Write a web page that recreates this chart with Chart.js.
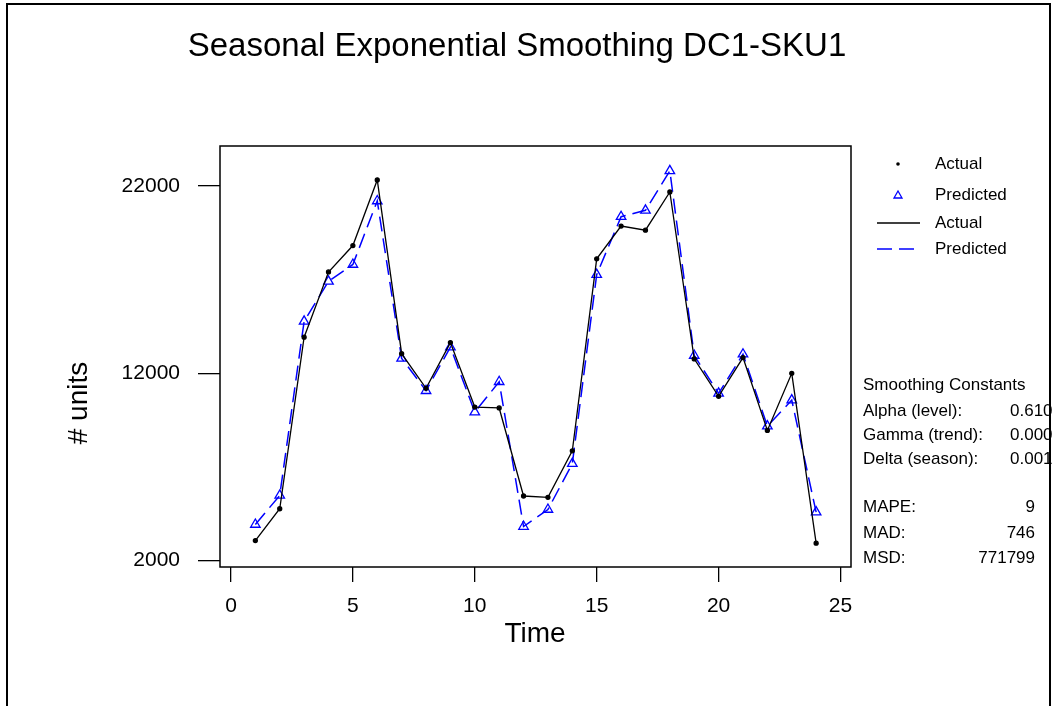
<!DOCTYPE html>
<html>
<head>
<meta charset="utf-8">
<title>Seasonal Exponential Smoothing DC1-SKU1</title>
<script src="https://cdn.jsdelivr.net/npm/chart.js@4/dist/chart.umd.min.js"></script>
<style>
    html, body { margin: 0; padding: 0; background: #fff; }
    canvas { display: block; }
</style>
</head>
<body>
<canvas id="forecastChart" width="1052" height="706"></canvas>
<script>
// Series values
const timePeriods = [1, 2, 3, 4, 5, 6, 7, 8, 9, 10, 11, 12, 13, 14, 15, 16, 17, 18, 19, 20, 21, 22, 23, 24];
const actualUnits = [3070, 4770, 13930, 17410, 18820, 22320, 13050, 11200, 13640, 10200, 10150, 5450,
                     5380, 7860, 18110, 19860, 19640, 21680, 12770, 10770, 12840, 8950, 12000, 2930];
const predictedUnits = [3930, 5480, 14770, 16910, 17810, 21200, 12800, 11070, 13400, 9930, 11550, 3820,
                        4730, 7180, 17270, 20360, 20700, 22810, 12950, 10930, 13020, 9180, 10570, 4590];

// Axis ticks
const xTicks = [0, 5, 10, 15, 20, 25];
const yTicks = [2000, 12000, 22000];

// Side panel text
const smoothingLabels = ['Alpha (level):', 'Gamma (trend):', 'Delta (season):'];
const smoothingValues = ['0.610', '0.000', '0.001'];
const accuracyLabels = ['MAPE:', 'MAD:', 'MSD:'];
const accuracyValues = ['9', '746', '771799'];

(function() {
    'use strict';

    const FONT = '"Liberation Sans", Arial, Helvetica, sans-serif';
    const BLUE = '#0000ff';

    // Fixed plot box, same spot as the reference
    const box = { left: 220, top: 146, right: 851, bottom: 567 };

    const toPoints = (values) => values.map((v, i) => ({ x: timePeriods[i], y: v }));

    const setText = (ctx, size, align) => {
        ctx.font = size + 'px ' + FONT;
        ctx.fillStyle = '#000';
        ctx.textAlign = align || 'left';
        ctx.textBaseline = 'middle';
    };

    // Frame, box, title, axis titles, legend and statistics
    const decorations = {
        id: 'decorations',
        afterDraw(chart) {
            const ctx = chart.ctx;
            const area = chart.chartArea;
            ctx.save();

            // page frame
            ctx.strokeStyle = '#000';
            ctx.lineWidth = 2;
            ctx.beginPath();
            ctx.moveTo(7, 720);
            ctx.lineTo(7, 4);
            ctx.lineTo(1050, 4);
            ctx.lineTo(1050, 720);
            ctx.stroke();

            // plot box
            ctx.lineWidth = 1.5;
            ctx.strokeRect(area.left, area.top, area.right - area.left, area.bottom - area.top);

            // title
            setText(ctx, 33, 'center');
            ctx.fillText('Seasonal Exponential Smoothing DC1-SKU1', 517, 47);

            // axis titles
            setText(ctx, 28, 'center');
            ctx.fillText('Time', 535, 634);
            ctx.save();
            ctx.translate(79, 403);
            ctx.rotate(-Math.PI / 2);
            ctx.fillText('# units', 0, 0);
            ctx.restore();

            // legend
            setText(ctx, 17);
            ctx.fillText('Actual', 935, 164);
            ctx.fillText('Predicted', 935, 195);
            ctx.fillText('Actual', 935, 223);
            ctx.fillText('Predicted', 935, 249);

            ctx.fillStyle = '#000';
            ctx.beginPath();
            ctx.arc(898, 164, 1.8, 0, Math.PI * 2);
            ctx.fill();

            ctx.strokeStyle = BLUE;
            ctx.lineWidth = 1.3;
            ctx.beginPath();
            ctx.moveTo(898, 191);
            ctx.lineTo(902, 198);
            ctx.lineTo(894, 198);
            ctx.closePath();
            ctx.stroke();

            ctx.strokeStyle = '#000';
            ctx.lineWidth = 1.3;
            ctx.beginPath();
            ctx.moveTo(877, 223);
            ctx.lineTo(920, 223);
            ctx.stroke();

            ctx.strokeStyle = BLUE;
            ctx.lineWidth = 1.5;
            ctx.setLineDash([15, 7]);
            ctx.beginPath();
            ctx.moveTo(877, 249);
            ctx.lineTo(918, 249);
            ctx.stroke();
            ctx.setLineDash([]);

            // smoothing constants and accuracy measures
            setText(ctx, 17);
            ctx.fillText('Smoothing Constants', 863, 385);
            const constRows = [411, 435, 459];
            smoothingLabels.forEach((label, i) => {
                setText(ctx, 17);
                ctx.fillText(label, 863, constRows[i]);
                ctx.fillText(smoothingValues[i], 1010, constRows[i]);
            });
            const accRows = [507, 533, 558];
            accuracyLabels.forEach((label, i) => {
                setText(ctx, 17);
                ctx.fillText(label, 863, accRows[i]);
                setText(ctx, 17, 'right');
                ctx.fillText(accuracyValues[i], 1035, accRows[i]);
            });

            ctx.restore();
        }
    };

    const ctx = document.getElementById('forecastChart').getContext('2d');

    new Chart(ctx, {
        type: 'line',
        data: {
            datasets: [
                {
                    label: 'Actual',
                    data: toPoints(actualUnits),
                    borderColor: '#000',
                    borderWidth: 1.3,
                    pointStyle: 'circle',
                    pointRadius: 2,
                    pointBackgroundColor: '#000',
                    pointBorderColor: '#000',
                    tension: 0
                },
                {
                    label: 'Predicted',
                    data: toPoints(predictedUnits),
                    borderColor: BLUE,
                    borderWidth: 1.5,
                    borderDash: [15, 7],
                    pointStyle: 'triangle',
                    pointRadius: 5.5,
                    pointBackgroundColor: 'rgba(0,0,0,0)',
                    pointBorderColor: BLUE,
                    pointBorderWidth: 1.3,
                    tension: 0
                }
            ]
        },
        options: {
            responsive: false,
            animation: false,
            devicePixelRatio: 1,
            events: [],
            layout: {
                padding: { left: 0, top: box.top, right: 1052 - box.right, bottom: 0 }
            },
            plugins: {
                legend: { display: false },
                title: { display: false },
                tooltip: { enabled: false }
            },
            scales: {
                x: {
                    type: 'linear',
                    min: -0.45,
                    max: 25.43,
                    afterFit: (scale) => { scale.height = 706 - box.bottom; },
                    afterBuildTicks: (scale) => { scale.ticks = xTicks.map(v => ({ value: v })); },
                    border: { display: false },
                    grid: { drawOnChartArea: false, color: '#000', lineWidth: 1.3, tickLength: 15 },
                    ticks: {
                        color: '#000',
                        padding: 12,
                        maxRotation: 0,
                        autoSkip: false,
                        font: { family: FONT, size: 21 }
                    }
                },
                y: {
                    min: 1660,
                    max: 24135,
                    afterFit: (scale) => { scale.width = box.left; },
                    afterBuildTicks: (scale) => { scale.ticks = yTicks.map(v => ({ value: v })); },
                    border: { display: false },
                    grid: { drawOnChartArea: false, color: '#000', lineWidth: 1.3, tickLength: 22 },
                    ticks: {
                        color: '#000',
                        padding: 18,
                        autoSkip: false,
                        font: { family: FONT, size: 21 },
                        callback: (value) => String(value)
                    }
                }
            }
        },
        plugins: [decorations]
    });
})();
</script>
</body>
</html>
